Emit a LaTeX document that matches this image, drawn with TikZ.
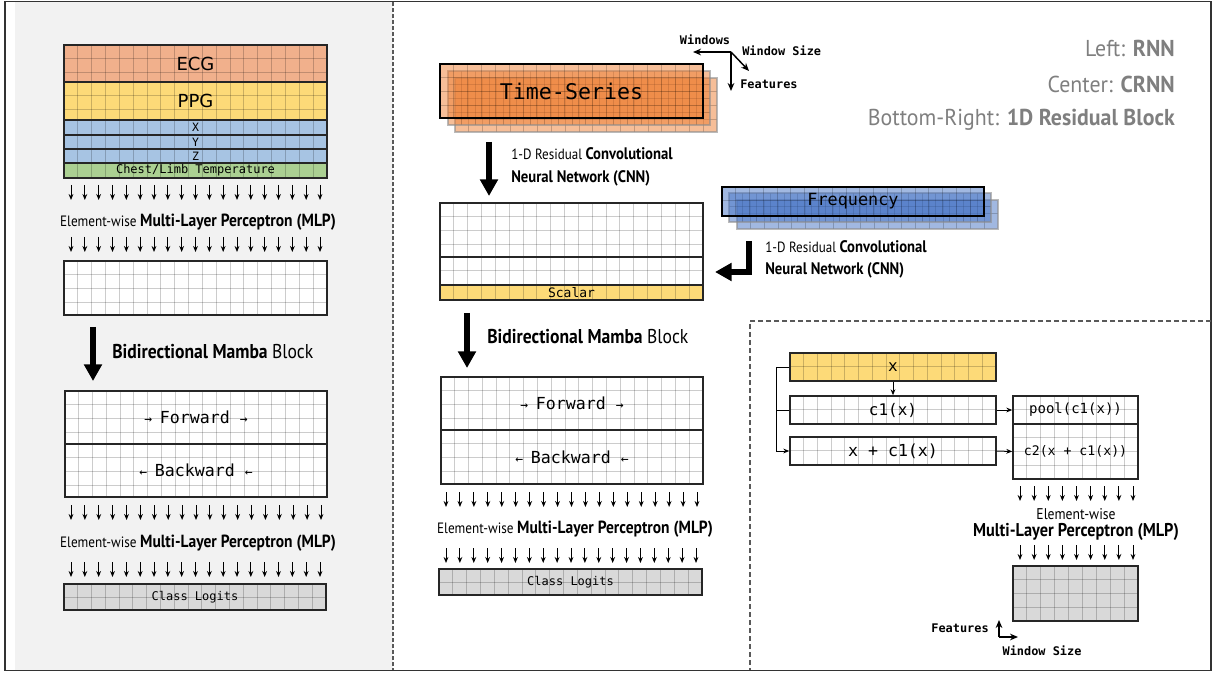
\documentclass[tikz,border=0pt]{standalone}
\usepackage{fontspec}
\setmainfont{DejaVu Sans}
\setmonofont{DejaVu Sans Mono}
\newfontfamily\cond[FakeStretch=0.88]{PT Sans}
\newfontfamily\condleg[FakeStretch=0.95]{PT Sans}
\usetikzlibrary{arrows.meta,fit}
\newcommand\fpx[1]{\fontsize{\dimexpr #1pt*3/4\relax}{\dimexpr #1pt*9/10\relax}\selectfont}
\definecolor{panelbg}{HTML}{F2F2F2}
\definecolor{ecgc}{HTML}{F1B08C}
\definecolor{ppgc}{HTML}{FDDA78}
\definecolor{accc}{HTML}{A7C4E3}
\definecolor{tmpc}{HTML}{ABD092}
\definecolor{orng}{HTML}{ED7D31}
\definecolor{blu}{HTML}{4472C4}
\definecolor{logit}{HTML}{D9D9D9}
\definecolor{legendc}{HTML}{7F7F7F}
\definecolor{bord}{HTML}{262626}
\tikzset{
  bx/.style={draw=bord, line width=1.1pt, inner sep=0pt},
  gl/.style={draw=black, draw opacity=0.2, line width=0.75pt},
  sarr/.style={-{Stealth[length=4.5pt,width=3.6pt]}, line width=0.75pt},
  axarr/.style={-{Stealth[length=6pt,width=5pt]}, line width=1.1pt},
  bigarr/.style={-{Triangle[length=12.5pt,width=13pt]}, line width=4.3pt},
  lbl/.style={inner sep=0pt},
  backlayer/.style={draw=black!45, draw opacity=0.6},
}
\newcommand\gridlines[5]{%
  \pgfmathsetmacro\gstep{(#3-#1)/#5}%
  \pgfmathtruncatemacro\gcols{#5-1}%
  \foreach \i in {1,...,\gcols}{\draw[gl] ({#1+\i*\gstep},#2) -- ({#1+\i*\gstep},#4);}%
  \pgfmathtruncatemacro\grows{floor((#4-#2)/\gstep-0.3)}%
  \ifnum\grows>0 \foreach \j in {1,...,\grows}{\draw[gl] (#1,{#2+\j*\gstep}) -- (#3,{#2+\j*\gstep});}\fi
}
\newcommand\gbox[8][]{%
  \fill[#8] (#3,#4) rectangle (#5,#6);
  \gridlines{#3}{#4}{#5}{#6}{#7}
  \node[bx,#1,fit={(#3,#4) (#5,#6)}] (#2) {};
}
\newcommand\arrrow[5]{% x0 x1 n y0 y1
  \pgfmathsetmacro\adx{(#2-#1)/(#3-1)}%
  \pgfmathtruncatemacro\anm{#3-1}%
  \foreach \k in {0,...,\anm}{\draw[sarr] ({#1+\k*\adx},#4) -- ({#1+\k*\adx},#5);}%
}
\newcommand\mlptext{\cond\fpx{15}Element-wise \fpx{17.6}\bfseries Multi-Layer Perceptron (MLP)}
\newcommand\cnntop{\cond\fpx{14.8}1-D Residual \fpx{16.7}\bfseries Convolutional}
\newcommand\cnnbot{\cond\fpx{16.7}\bfseries Neural Network (CNN)}
\newcommand\bidtext{\cond\fpx{20}\bfseries Bidirectional Mamba \mdseries Block}
\begin{document}
\begin{tikzpicture}[x=0.75pt,y=-0.75pt]
\useasboundingbox (0,0) rectangle (1216,673);
% panels
\fill[panelbg] (15,2.5) rectangle (393,669.5);
\draw[line width=1.1pt, draw=black!80] (5,1.5) rectangle (1211,670.5);
\draw[draw=black!65, line width=1pt, dash pattern=on 2.8pt off 1.7pt] (393,2) -- (393,670);
\draw[draw=black!65, line width=1pt, dash pattern=on 3.5pt off 2.5pt] (1211,321) -- (750,321) -- (750,670);

% ================= LEFT (RNN) =================
\gbox{ecg}{64}{45}{327}{82}{19}{ecgc}
\gbox{ppg}{64}{82}{327}{120}{19}{ppgc}
\gbox{accx}{64}{120}{327}{135}{19}{accc}
\gbox{accy}{64}{135}{327}{149}{19}{accc}
\gbox{accz}{64}{149}{327}{163}{19}{accc}
\gbox{temp}{64}{163}{327}{178}{19}{tmpc}
\node[lbl, font=\fpx{18}] (tecg) at (ecg) {ECG};
\node[lbl, font=\fpx{18}] (tppg) at (ppg) {PPG};
\node[lbl, font=\ttfamily\fpx{11.5}] (tx) at (accx) {X};
\node[lbl, font=\ttfamily\fpx{11.5}] (ty) at (accy) {Y};
\node[lbl, font=\ttfamily\fpx{11.5}] (tz) at (accz) {Z};
\node[lbl, font=\ttfamily\fpx{12}] (ttemp) at (temp) {Chest/Limb Temperature};
\arrrow{71}{320}{19}{185}{200}
\node[lbl] (lmlp1) at (198,222) {\mlptext};
\arrrow{71}{320}{19}{237}{252}
\gbox{lemb}{64}{261}{327}{315}{19}{white}
\coordinate (lba) at (93,327);
\coordinate (lbb) at (93,381);
\draw[bigarr] (lba) -- (lbb);
\node[lbl, anchor=west] (lbid) at (112,352) {\bidtext};
\gbox{lfwd}{65}{391}{327}{444}{19}{white}
\gbox{lbwd}{65}{444}{327}{497}{19}{white}
\node[lbl, font=\ttfamily\fpx{16.6}] (tlf) at (lfwd) {\fpx{13}→ \fpx{16.6}Forward \fpx{13}→};
\node[lbl, font=\ttfamily\fpx{16.6}] (tlb) at (lbwd) {\fpx{13}← \fpx{16.6}Backward \fpx{13}←};
\arrrow{71}{321}{19}{505}{520}
\node[lbl] (lmlp2) at (198,543) {\mlptext};
\arrrow{71}{320}{19}{562}{577}
\gbox{llog}{64}{584}{326}{610}{19}{logit}
\node[lbl, font=\ttfamily\fpx{12}] (tll) at (llog) {Class Logits};

% ================= CENTER (CRNN) =================
\gbox[backlayer]{ts3}{455}{78}{717}{132}{19}{orng, fill opacity=0.5}
\gbox[backlayer]{ts2}{448}{71}{710}{125}{19}{orng, fill opacity=0.5}
\gbox[draw=black]{ts}{440}{64}{703}{118}{19}{orng, fill opacity=0.5}
\node[lbl, font=\ttfamily\fpx{21.6}] (tts) at (ts) {Time-Series};
\coordinate (ax) at (731,52);
\coordinate (axw) at (693,52);
\coordinate (axf) at (731,91);
\coordinate (axs) at (749,71);
\draw[axarr] (ax) -- (axw);
\draw[axarr] (ax) -- (axf);
\draw[axarr] (ax) -- (axs);
\node[lbl, font=\ttfamily\bfseries\fpx{11.9}] (twin) at (705,40) {Windows};
\node[lbl, anchor=west, font=\ttfamily\bfseries\fpx{11.9}] (twsz) at (742,51) {Window Size};
\node[lbl, anchor=west, font=\ttfamily\bfseries\fpx{11.9}] (tfeat) at (740,84) {Features};
\coordinate (ca) at (489,142);
\coordinate (cb) at (489,196);
\draw[bigarr] (ca) -- (cb);
\node[lbl, anchor=west] (tcnn1) at (511,154) {\cnntop};
\node[lbl, anchor=west] (tcnn1b) at (511,178) {\cnnbot};
\gbox{cf}{440}{203}{703}{257}{19}{white}
\gbox{cq}{440}{257}{703}{285}{19}{white}
\gbox{cs}{440}{285}{703}{300}{19}{ppgc}
\node[lbl, font=\ttfamily\fpx{13}] (tsc) at (cs) {Scalar};
\gbox[backlayer]{fq3}{737}{200}{998}{229}{19}{blu, fill opacity=0.5}
\gbox[backlayer]{fq2}{729}{193}{991}{222}{19}{blu, fill opacity=0.5}
\gbox[draw=black]{fq}{722}{187}{984}{216}{19}{blu, fill opacity=0.5}
\node[lbl, font=\ttfamily\fpx{16.8}] (tfq) at (fq) {Frequency};
\coordinate (la) at (749,241);
\coordinate (lb) at (715,272);
\draw[bigarr] (la) |- (lb);
\node[lbl, anchor=west] (tcnn2) at (765,247) {\cnntop};
\node[lbl, anchor=west] (tcnn2b) at (765,270) {\cnnbot};
\coordinate (ma) at (467,313);
\coordinate (mb) at (467,368);
\draw[bigarr] (ma) -- (mb);
\node[lbl, anchor=west] (cbid) at (487,337) {\bidtext};
\gbox{cfwd}{441}{377}{703}{430}{19}{white}
\gbox{cbwd}{441}{430}{703}{484}{19}{white}
\node[lbl, font=\ttfamily\fpx{16.6}] (tcf) at (cfwd) {\fpx{13}→ \fpx{16.6}Forward \fpx{13}→};
\node[lbl, font=\ttfamily\fpx{16.6}] (tcb) at (cbwd) {\fpx{13}← \fpx{16.6}Backward \fpx{13}←};
\arrrow{446}{697}{19}{492}{507}
\node[lbl] (cmlp) at (575,529) {\mlptext};
\arrrow{446}{696}{19}{548}{563}
\gbox{clog}{439}{569}{702}{595}{19}{logit}
\node[lbl, font=\ttfamily\fpx{12}] (tcl) at (clog) {Class Logits};

% ================= LEGEND =================
\node[lbl, anchor=east, text=legendc] (leg1) at (1175,48) {\condleg\fpx{23}Left: \bfseries RNN};
\node[lbl, anchor=east, text=legendc] (leg2) at (1175,84) {\condleg\fpx{23}Center: \bfseries CRNN};
\node[lbl, anchor=east, text=legendc] (leg3) at (1175,120) {\condleg\fpx{23}Bottom-Right: \bfseries 1D Residual Block};

% ================= RESIDUAL BLOCK =================
\gbox{xin}{790}{353}{996}{381}{15}{ppgc}
\gbox{c1}{790}{396}{996}{424}{15}{white}
\gbox{xc}{790}{437}{996}{465}{15}{white}
\gbox{pool}{1013}{396}{1138}{424}{9}{white}
\gbox{c2}{1013}{424}{1138}{479}{9}{white}
\node[lbl, font=\ttfamily\fpx{16}] (txin) at (xin) {x};
\node[lbl, font=\ttfamily\fpx{16}] (tc1) at (c1) {c1(x)};
\node[lbl, font=\ttfamily\fpx{16.6}] (txc) at (xc) {x + c1(x)};
\node[lbl, font=\ttfamily\fpx{14}] (tpool) at (pool) {pool(c1(x))};
\node[lbl, font=\ttfamily\fpx{13.2}] (tc2) at (c2) {c2(x + c1(x))};
\draw[sarr] (xin.south) -- (c1.north);
\draw[sarr] (xin.west) -- ++(-13,0) coordinate (skp) |- (xc.west);
\draw[line width=0.75pt] (c1.west) -- (c1.west -| skp);
\draw[sarr] (c1.east) -- (pool.west);
\draw[sarr] (xc.east) -- (c2.west);
\arrrow{1020}{1133}{9}{486}{501}
\node[lbl] (rel) at (1076,514) {\cond\fpx{15.5}Element-wise};
\node[lbl] (rmlp) at (1076,532) {\cond\fpx{18.5}\bfseries Multi-Layer Perceptron (MLP)};
\arrrow{1020}{1133}{9}{545}{560}
\gbox{rout}{1013}{566}{1138}{621}{9}{logit}
\coordinate (rax) at (999,637);
\coordinate (raxu) at (999,620);
\coordinate (raxr) at (1018,637);
\draw[axarr] (rax) -- (raxu);
\draw[axarr] (rax) -- (raxr);
\node[lbl, font=\ttfamily\bfseries\fpx{11.9}] (rfeat) at (960,628) {Features};
\node[lbl, font=\ttfamily\bfseries\fpx{11.9}] (rwsz) at (1042,651) {Window Size};
\end{tikzpicture}
\end{document}
